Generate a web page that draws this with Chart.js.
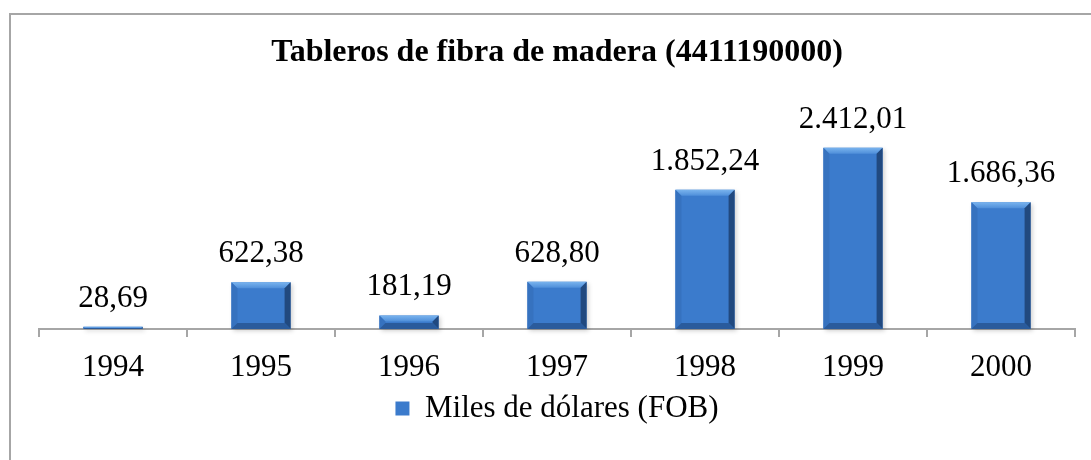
<!DOCTYPE html>
<html>
<head>
<meta charset="utf-8">
<script src="https://cdn.jsdelivr.net/npm/chart.js@4"></script>
<style>
  html, body { margin: 0; padding: 0; background: #fff; }
  #wrap { position: relative; width: 1091px; height: 460px; overflow: hidden; }
  #frame { position: absolute; left: 9px; top: 13px; width: 1200px; height: 600px;
           border-left: 2px solid #a6a6a6; border-top: 2px solid #a6a6a6; }
  #chart { position: absolute; left: 0; top: 0; }
</style>
</head>
<body>
<div id="wrap">
  <div id="frame"></div>
  <canvas id="chart" width="1091" height="460"></canvas>
</div>
<script>
// data
const years = ['1994', '1995', '1996', '1997', '1998', '1999', '2000'];
const fobValues = [28.69, 622.38, 181.19, 628.80, 1852.24, 2412.01, 1686.36];
const seriesName = 'Miles de dólares (FOB)';
const chartTitle = 'Tableros de fibra de madera (4411190000)';

const serif = '"Liberation Serif", "Times New Roman", serif';

// 1.852,24 style numbers
function fmt(v) {
    const parts = v.toFixed(2).split('.');
    const intPart = parts[0].replace(/\B(?=(\d{3})+(?!\d))/g, '.');
    return intPart + ',' + parts[1];
}

function barBox(bar) {
    const p = bar.getProps(['x', 'y', 'base', 'width'], true);
    return { x: p.x, left: p.x - p.width / 2, right: p.x + p.width / 2, top: p.y, bottom: p.base };
}

// soft shadow behind the bars, bevel faces and value labels on top
const bevelBars = {
    id: 'bevelBars',
    beforeDatasetsDraw(chart) {
        const ctx = chart.ctx;
        chart.getDatasetMeta(0).data.forEach(function(bar) {
            const r = barBox(bar);
            ctx.save();
            ctx.filter = 'blur(2px)';
            ctx.fillStyle = 'rgba(0,0,0,0.18)';
            ctx.fillRect(r.left + 2, r.top + 2, r.right - r.left, r.bottom - r.top);
            ctx.restore();
        });
    },
    afterDatasetsDraw(chart) {
        const ctx = chart.ctx;
        chart.getDatasetMeta(0).data.forEach(function(bar, i) {
            const r = barBox(bar);
            const left = r.left, right = r.right, top = r.top, bottom = r.bottom;
            const b = Math.min(6, (bottom - top) / 2);

            ctx.save();
            // top face
            const g = ctx.createLinearGradient(0, top, 0, top + b);
            g.addColorStop(0, '#7ab4ee');
            g.addColorStop(1, '#4f8fda');
            ctx.fillStyle = g;
            ctx.beginPath();
            ctx.moveTo(left, top); ctx.lineTo(right, top);
            ctx.lineTo(right - b, top + b); ctx.lineTo(left + b, top + b);
            ctx.closePath(); ctx.fill();
            // left face
            ctx.fillStyle = '#3672bf';
            ctx.beginPath();
            ctx.moveTo(left, top); ctx.lineTo(left + b, top + b);
            ctx.lineTo(left + b, bottom - b); ctx.lineTo(left, bottom);
            ctx.closePath(); ctx.fill();
            // right face
            ctx.fillStyle = '#21497f';
            ctx.beginPath();
            ctx.moveTo(right, top); ctx.lineTo(right - b, top + b);
            ctx.lineTo(right - b, bottom - b); ctx.lineTo(right, bottom);
            ctx.closePath(); ctx.fill();
            // bottom face
            ctx.fillStyle = '#2a5b9c';
            ctx.beginPath();
            ctx.moveTo(left, bottom); ctx.lineTo(right, bottom);
            ctx.lineTo(right - b, bottom - b); ctx.lineTo(left + b, bottom - b);
            ctx.closePath(); ctx.fill();

            // value label
            ctx.fillStyle = '#000';
            ctx.font = '31px ' + serif;
            ctx.textAlign = 'center';
            ctx.textBaseline = 'alphabetic';
            ctx.fillText(fmt(fobValues[i]), r.x, top - 20);
            ctx.restore();
        });
    }
};

new Chart(document.getElementById('chart'), {
    type: 'bar',
    data: {
        labels: years,
        datasets: [{
            label: seriesName,
            data: fobValues,
            backgroundColor: '#3b7bcc',
            borderWidth: 0,
            categoryPercentage: 1,
            barPercentage: 0.40
        }]
    },
    options: {
        responsive: false,
        animation: false,
        layout: { padding: { left: 39, right: 16, top: 0, bottom: 26 } },
        plugins: {
            title: {
                display: true,
                text: chartTitle,
                color: '#000',
                font: { family: serif, size: 32, weight: 'bold' },
                padding: { top: 34, bottom: 22 }
            },
            legend: {
                position: 'bottom',
                labels: {
                    color: '#000',
                    font: { family: serif, size: 31 },
                    boxWidth: 14,
                    boxHeight: 14,
                    padding: 10
                }
            },
            tooltip: { enabled: false }
        },
        scales: {
            x: {
                // labels sit close to the legend, so keep the axis box short
                afterFit: function(scale) { scale.height = 54; },
                grid: {
                    offset: true,
                    drawOnChartArea: false,
                    drawTicks: true,
                    tickLength: 8,
                    color: '#a6a6a6',
                    lineWidth: 2
                },
                border: { display: true, color: '#a6a6a6', width: 2 },
                ticks: {
                    color: '#000',
                    font: { family: serif, size: 31, lineHeight: 1 },
                    padding: 15
                }
            },
            y: {
                display: false,
                min: 0,
                max: 3120
            }
        }
    },
    plugins: [bevelBars]
});
</script>
</body>
</html>
